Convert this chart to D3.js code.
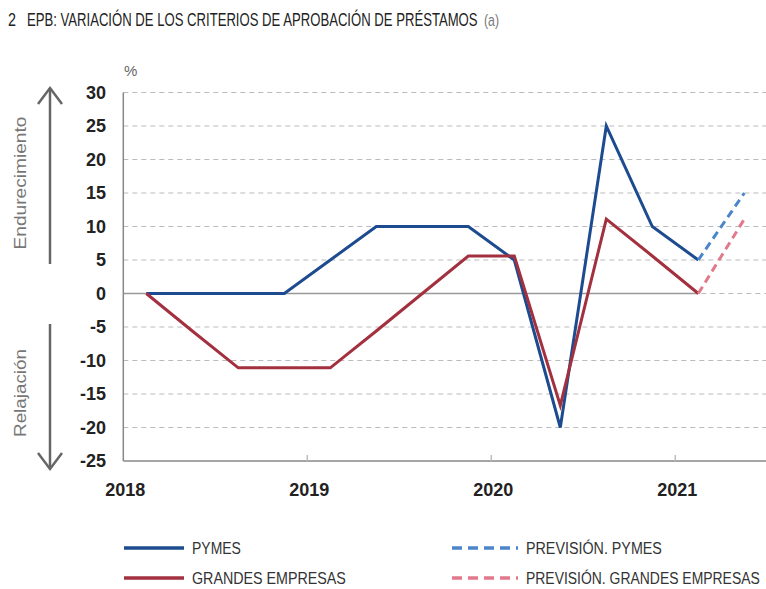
<!DOCTYPE html>
<html>
<head>
<meta charset="utf-8">
<script src="https://cdn.jsdelivr.net/npm/d3@7"></script>
<style>
  body { margin: 0; background: #fff; }
  svg { display: block; font-family: 'Liberation Sans', Arial, sans-serif; }
</style>
</head>
<body>
<div id="graf"></div>
<script>
// Datos (trimestrales)
trimestres = ['2018T1', '2018T2', '2018T3', '2018T4', '2019T1', '2019T2', '2019T3', '2019T4',
        '2020T1', '2020T2', '2020T3', '2020T4', '2021T1']
pymes = [0, 0, 0, 0, 5, 10, 10, 10, 5, -20, 25, 10, 5]
grandes = [0, -5.6, -11.1, -11.1, -11.1, -5.6, 0, 5.6, 5.6, -16.7, 11.1, 5.6, 0]
prevTrimestres = ['2021T1', '2021T2']
prevPymes = [5, 15]
prevGrandes = [0, 11.1]
anios = [2018, 2019, 2020, 2021]
yTicks = [30, 25, 20, 15, 10, 5, 0, -5, -10, -15, -20, -25]

// Configuracion
ancho_total = 766
alto_total = 589
margins = { top: 92.5, left: 123.3, bottom: 128 }

svg = d3.select('#graf').append('svg')
        .attr('width', ancho_total)
        .attr('height', alto_total)

aDecimal = t => +t.slice(0, 4) + (+t.slice(5) - 0.5) / 4

x = d3.scaleLinear().domain([2018, 2022]).range([margins.left, margins.left + 4 * 184])
y = d3.scaleLinear().domain([-25, 30]).range([alto_total - margins.bottom, margins.top])

colAzul = '#1d4b8f'
colRojo = '#a3303f'
colAzulPrev = '#4a86c9'
colRojoPrev = '#e2798a'
ultimo = x(aDecimal(trimestres[trimestres.length - 1]))

// texto estrecho: se comprime en horizontal hasta ocupar 'len' px
estrecho = (txt, px, py, len, size, color, rot) => {
        let t = svg.append('text').attr('font-size', size).attr('fill', color).text(txt)
        let w = t.node().getComputedTextLength()
        let sx = len / w
        if (rot) {
                t.attr('text-anchor', 'middle')
                        .attr('transform', `translate(${px}, ${py}) rotate(-90) scale(${sx}, 1)`)
        } else {
                t.attr('transform', `translate(${px}, ${py}) scale(${sx}, 1)`)
        }
        return t
}

// Titulo
estrecho('2', 8, 26, 8, 19, '#222')
estrecho('EPB: VARIACIÓN DE LOS CRITERIOS DE APROBACIÓN DE PRÉSTAMOS', 27, 26, 451, 19, '#222')
estrecho('(a)', 484, 26, 15, 16, '#777')

// Rejilla
g = svg.append('g')
yTicks.forEach(t => {
        if (t === 0) {
                g.append('line').attr('x1', x(2018)).attr('x2', ultimo)
                        .attr('y1', y(0)).attr('y2', y(0))
                        .attr('stroke', '#999').attr('stroke-width', 1.5)
                g.append('line').attr('x1', ultimo).attr('x2', ancho_total + 10)
                        .attr('y1', y(0)).attr('y2', y(0))
                        .attr('stroke', '#bbb').attr('stroke-width', 1.2).attr('stroke-dasharray', '5,4')
                        .attr('stroke-dashoffset', -3)
        } else if (t !== -25) {
                g.append('line').attr('x1', x(2018)).attr('x2', ancho_total + 10)
                        .attr('y1', y(t)).attr('y2', y(t))
                        .attr('stroke', '#bbb').attr('stroke-width', 1.2).attr('stroke-dasharray', '5,4')
        }
        g.append('text').attr('x', 106).attr('y', y(t)).attr('dy', '0.35em')
                .attr('text-anchor', 'end').attr('font-size', 18).attr('font-weight', 'bold')
                .attr('fill', '#222').text(t)
})

// Ejes
g.append('line').attr('x1', x(2018)).attr('x2', x(2018)).attr('y1', y(30)).attr('y2', y(-25))
        .attr('stroke', '#888').attr('stroke-width', 1.5)
g.append('line').attr('x1', x(2018)).attr('x2', ancho_total + 10).attr('y1', y(-25)).attr('y2', y(-25))
        .attr('stroke', '#888').attr('stroke-width', 1.5)
anios.forEach(a => {
        if (a > 2018) {
                g.append('line').attr('x1', x(a)).attr('x2', x(a)).attr('y1', y(-25)).attr('y2', y(-25) - 6)
                        .attr('stroke', '#bbb').attr('stroke-width', 1.5)
        }
        g.append('text').attr('x', x(a) + 2).attr('y', 496).attr('text-anchor', 'middle')
                .attr('font-size', 18).attr('font-weight', 'bold').attr('fill', '#222').text(a)
})
svg.append('text').attr('x', 124).attr('y', 76).attr('font-size', 15).attr('fill', '#666').text('%')

// Flechas y etiquetas laterales
flecha = (y1, y2) => {
        let s = y2 < y1 ? 1 : -1
        g.append('line').attr('x1', 50).attr('x2', 50).attr('y1', y1).attr('y2', y2)
                .attr('stroke', '#666').attr('stroke-width', 2.5)
        g.append('path').attr('d', `M${38},${y2 + s * 16}L50,${y2}L${62},${y2 + s * 16}`)
                .attr('fill', 'none').attr('stroke', '#666').attr('stroke-width', 2.5)
}
flecha(264, 88)
flecha(324, 469)
estrecho('Endurecimiento', 26, 183, 133, 17, '#777', true)
estrecho('Relajación', 26, 393, 88, 17, '#777', true)

// Lineas
linea = d3.line().x(d => x(aDecimal(d[0]))).y(d => y(d[1]))
serie = (fechas, valores, color, dash) => {
        g.append('path').datum(d3.zip(fechas, valores))
                .attr('d', linea).attr('fill', 'none').attr('stroke', color)
                .attr('stroke-width', 3).attr('stroke-linejoin', 'miter')
                .attr('stroke-dasharray', dash)
}
serie(trimestres, pymes, colAzul, null)
serie(trimestres, grandes, colRojo, null)
serie(prevTrimestres, prevGrandes, colRojoPrev, '8,5')
serie(prevTrimestres, prevPymes, colAzulPrev, '8,5')

// Leyenda
leyenda = [
        { nombre: 'PYMES', color: colAzul, dash: null, x: 124, y: 548, len: 49 },
        { nombre: 'GRANDES EMPRESAS', color: colRojo, dash: null, x: 124, y: 578, len: 154 },
        { nombre: 'PREVISIÓN. PYMES', color: colAzulPrev, dash: '10,6', x: 452, y: 548, len: 136 },
        { nombre: 'PREVISIÓN. GRANDES EMPRESAS', color: colRojoPrev, dash: '10,6', x: 452, y: 578, len: 234 }
]
leyenda.forEach(d => {
        let w = d.dash ? 66 : 60
        svg.append('line').attr('x1', d.x).attr('x2', d.x + w).attr('y1', d.y).attr('y2', d.y)
                .attr('stroke', d.color).attr('stroke-width', 3.5).attr('stroke-dasharray', d.dash)
        estrecho(d.nombre, d.x + w + 8, d.y + 6, d.len, 17, '#333')
})
</script>
</body>
</html>
